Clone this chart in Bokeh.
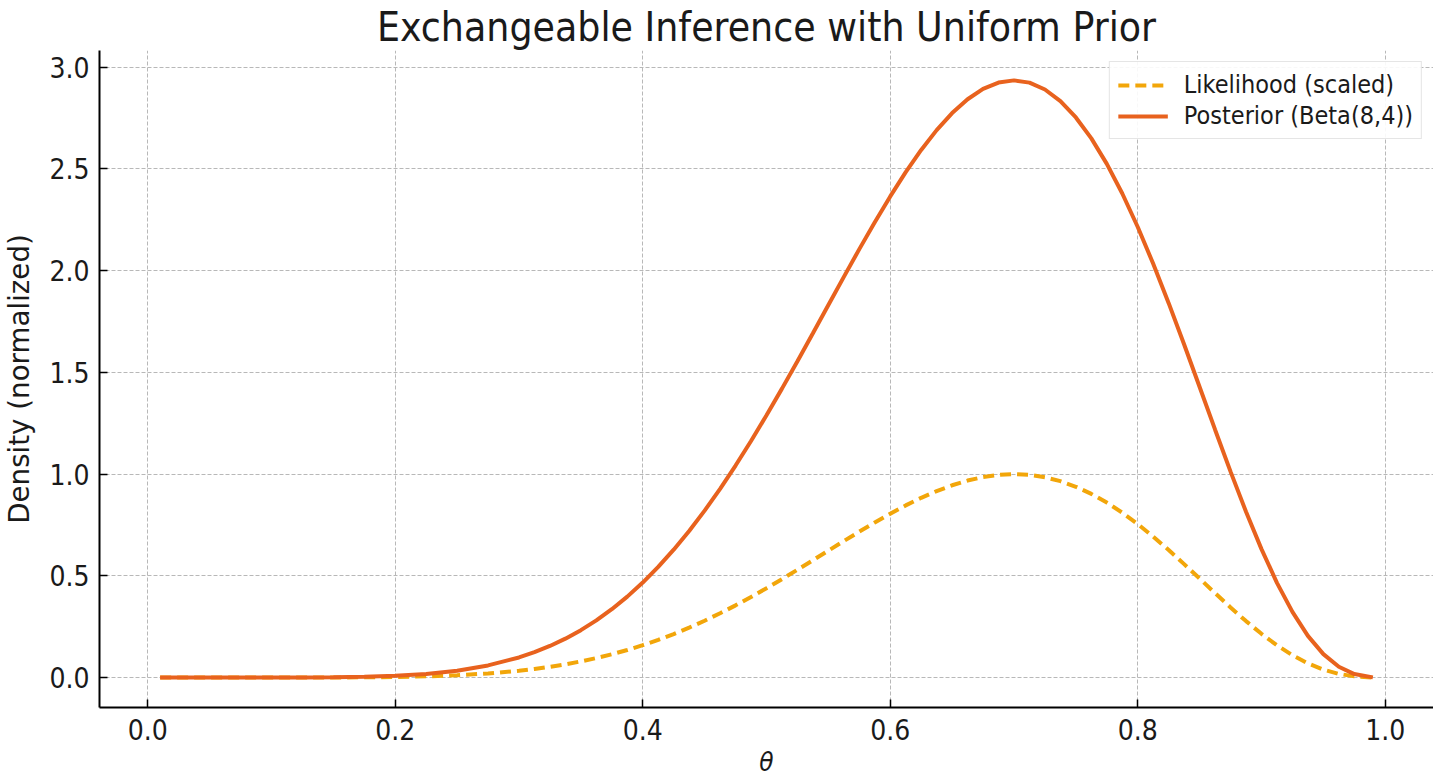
from bokeh.plotting import figure
from bokeh.models import Range1d, FixedTicker, Legend, LegendItem
from bokeh.embed import file_html
from bokeh.resources import INLINE

# values
theta = [0.01, 0.025, 0.05, 0.075, 0.10, 0.125, 0.15, 0.175, 0.20, 0.225, 0.25, 0.275,
         0.30, 0.3125, 0.325, 0.3375, 0.35, 0.3625, 0.375, 0.3875, 0.40, 0.4125, 0.425, 0.4375,
         0.45, 0.4625, 0.475, 0.4875, 0.50, 0.5125, 0.525, 0.5375, 0.55, 0.5625, 0.575, 0.5875,
         0.60, 0.6125, 0.625, 0.6375, 0.65, 0.6625, 0.675, 0.6875, 0.70, 0.7125, 0.725, 0.7375,
         0.75, 0.7625, 0.775, 0.7875, 0.80, 0.8125, 0.825, 0.8375, 0.85, 0.8625, 0.875, 0.8875,
         0.90, 0.9125, 0.925, 0.9375, 0.95, 0.9625, 0.975, 0.99]
posterior = [0.0, 0.0, 0.0, 0.0, 0.0001, 0.0004, 0.0014, 0.0037, 0.0087, 0.0179, 0.0340, 0.0598,
             0.0990, 0.1248, 0.1555, 0.1914, 0.2332, 0.2813, 0.3361, 0.3979, 0.4671, 0.5440, 0.6285, 0.7207,
             0.8206, 0.9279, 1.0421, 1.1627, 1.2891, 1.4202, 1.5551, 1.6926, 1.8312, 1.9695, 2.1058, 2.2383,
             2.3649, 2.4839, 2.5932, 2.6907, 2.7744, 2.8425, 2.8930, 2.9243, 2.9352, 2.9241, 2.8903, 2.8333,
             2.7530, 2.6500, 2.5249, 2.3791, 2.2146, 2.0339, 1.8402, 1.6369, 1.4282, 1.2184, 1.0124, 0.8151,
             0.6314, 0.4658, 0.3227, 0.2051, 0.1152, 0.0533, 0.0173, 0.0012]
likelihood = [0.0, 0.0, 0.0, 0.0, 0.00003, 0.00014, 0.0005, 0.0013, 0.0030, 0.0061, 0.0116, 0.0204,
              0.0337, 0.0425, 0.0530, 0.0652, 0.0795, 0.0958, 0.1145, 0.1356, 0.1592, 0.1853, 0.2141, 0.2455,
              0.2796, 0.3161, 0.3550, 0.3961, 0.4392, 0.4839, 0.5298, 0.5767, 0.6239, 0.6710, 0.7174, 0.7626,
              0.8057, 0.8463, 0.8835, 0.9167, 0.9452, 0.9684, 0.9856, 0.9963, 1.0, 0.9962, 0.9847, 0.9653,
              0.9379, 0.9028, 0.8602, 0.8105, 0.7545, 0.6929, 0.6269, 0.5577, 0.4866, 0.4151, 0.3449, 0.2777,
              0.2151, 0.1587, 0.1099, 0.0699, 0.0393, 0.0182, 0.0059, 0.0004]
x_ticks = [0.0, 0.2, 0.4, 0.6, 0.8, 1.0]
y_ticks = [0.0, 0.5, 1.0, 1.5, 2.0, 2.5, 3.0]

FONT = "DejaVu Sans Condensed, DejaVu Sans"
FONT_V = "DejaVu Sans"
INK = "#1a1a1a"

p = figure(width=1433, height=779, output_backend="svg", toolbar_location=None,
           x_range=Range1d(-0.039, 1.039), y_range=Range1d(-0.147, 3.082),
           title="Exchangeable Inference with Uniform Prior")
p.min_border_left = 98
p.min_border_right = 0
p.min_border_top = 43
p.min_border_bottom = 72
p.outline_line_color = None

p.title.text_font = FONT
p.title.text_font_size = "40.5px"
p.title.text_font_style = "normal"
p.title.text_color = INK
p.title.align = "center"
p.title.standoff = 0
p.title.text_line_height = 1.0

l1 = p.line(theta, likelihood, line_color="#f2a60a", line_width=4, line_dash="11 6")
l2 = p.line(theta, posterior, line_color="#e8621e", line_width=4)

for ax in (p.xaxis[0], p.yaxis[0]):
    ax.axis_line_color = "black"
    ax.axis_line_width = 2
    ax.major_tick_in = 8
    ax.major_tick_out = 0
    ax.major_tick_line_width = 1.5
    ax.minor_tick_line_color = None
    ax.major_label_text_font = FONT
    ax.major_label_text_font_size = "28px"
    ax.major_label_text_color = INK
    ax.axis_label_text_color = INK

p.xaxis[0].ticker = FixedTicker(ticks=x_ticks)
p.yaxis[0].ticker = FixedTicker(ticks=y_ticks)
p.xaxis[0].major_label_overrides = {t: f"{t:.1f}" for t in x_ticks}
p.yaxis[0].major_label_overrides = {t: f"{t:.1f}" for t in y_ticks}
p.xaxis[0].major_label_standoff = 11
p.xaxis[0].major_label_text_line_height = 0.8
p.yaxis[0].major_label_standoff = 10

p.xaxis[0].axis_label = "θ"
p.xaxis[0].axis_label_text_font = FONT
p.xaxis[0].axis_label_text_font_size = "26px"
p.xaxis[0].axis_label_text_font_style = "italic"
p.xaxis[0].axis_label_text_line_height = 0.8
p.xaxis[0].axis_label_standoff = 4

p.yaxis[0].axis_label = "Density (normalized)"
p.yaxis[0].axis_label_text_font = FONT_V
p.yaxis[0].axis_label_text_font_size = "27.7px"
p.yaxis[0].axis_label_text_font_style = "normal"
p.yaxis[0].axis_label_standoff = 10

for g in (p.xgrid[0], p.ygrid[0]):
    g.grid_line_color = "#b8b8b8"
    g.grid_line_dash = "4 2"
    g.grid_line_width = 1

legend = Legend(items=[LegendItem(label="Likelihood (scaled)", renderers=[l1]),
                       LegendItem(label="Posterior (Beta(8,4))", renderers=[l2])],
                location="top_right")
legend.label_text_font = FONT
legend.label_text_font_size = "25px"
legend.label_text_color = INK
legend.border_line_color = "#cccccc"
legend.border_line_width = 1.5
legend.background_fill_alpha = 0.9
legend.glyph_width = 50
legend.glyph_height = 26
legend.label_height = 26
legend.label_standoff = 16
legend.spacing = 2
legend.padding = 8
legend.margin = 11
p.add_layout(legend)

open("out.html", "w").write(file_html(p, INLINE))
